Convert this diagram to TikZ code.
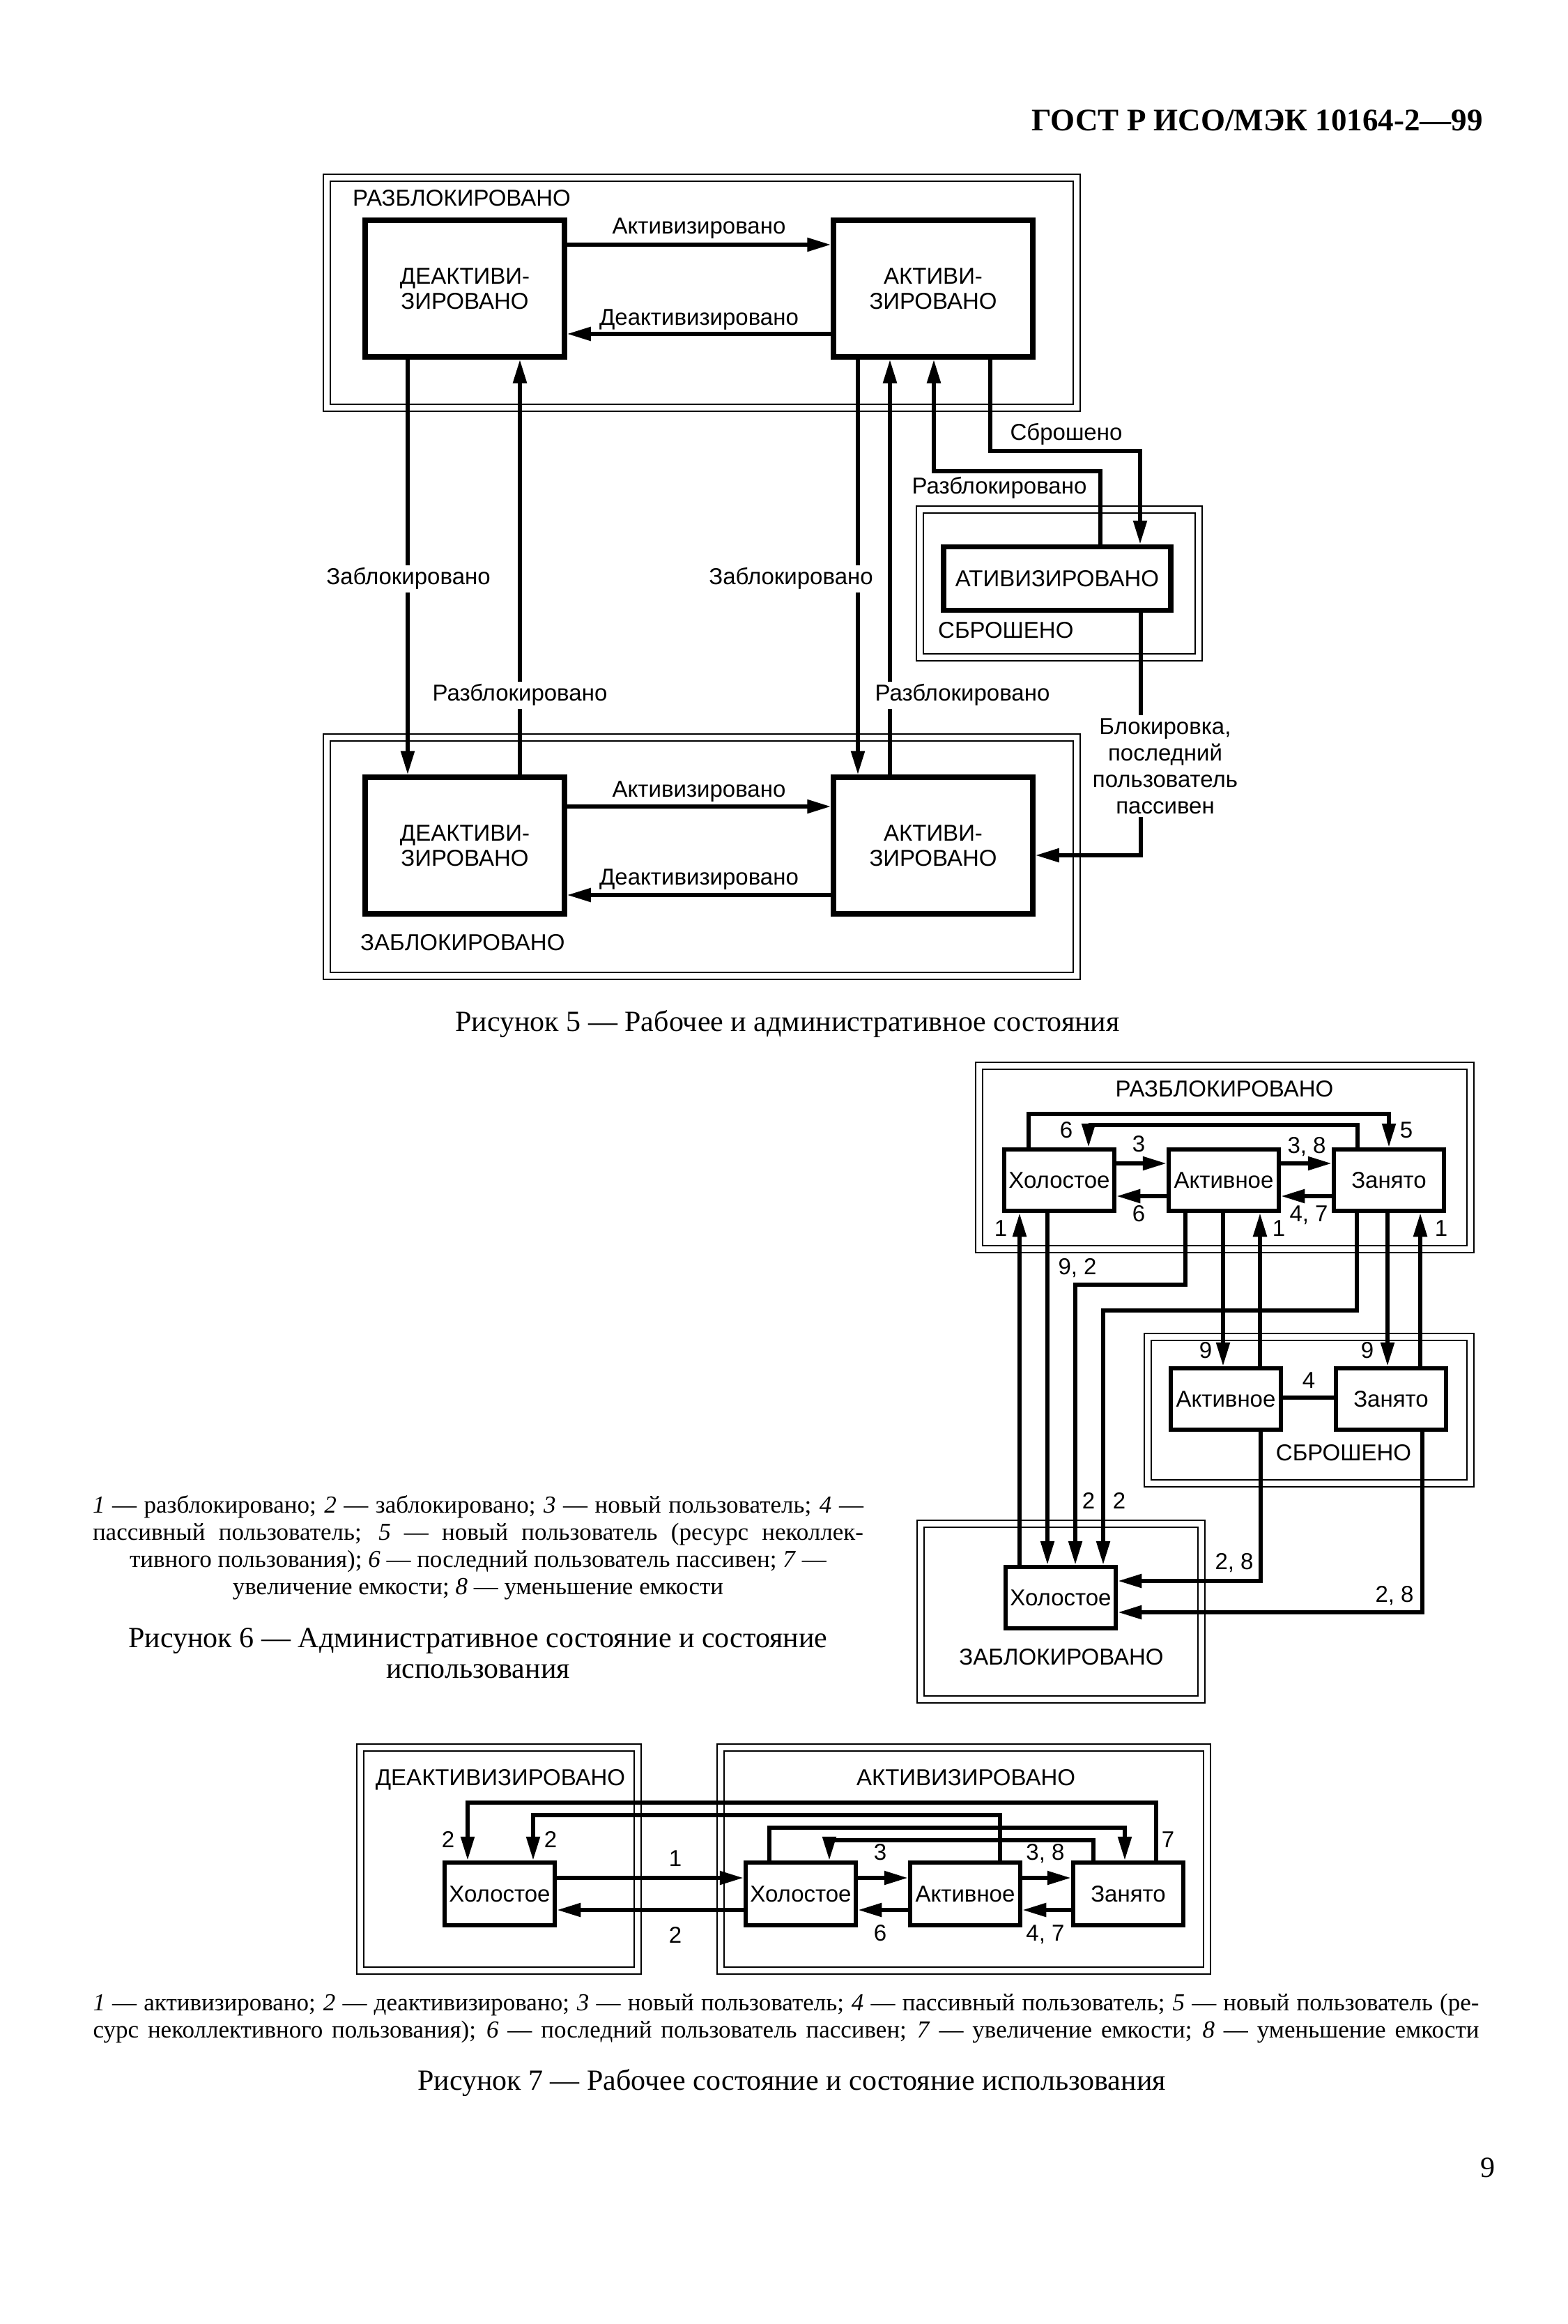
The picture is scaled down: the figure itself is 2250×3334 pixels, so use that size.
\documentclass[tikz,border=0pt]{standalone}
\usepackage{fontspec}
\setmainfont{Liberation Serif}
\setsansfont{Liberation Sans}
\usetikzlibrary{arrows.meta}
\newcommand\lblfont{\sffamily\fontsize{33}{36}\selectfont}
\newcommand\capfont{\rmfamily\fontsize{42}{44}\selectfont}
\newcommand\legfont{\rmfamily\fontsize{35}{39}\selectfont}
\tikzset{
  frame/.style = {draw=black, line width=2.8pt, double=white, double distance=7.2pt},
  state/.style = {draw=black, line width=7.5pt, fill=white, inner sep=0pt,
    font=\lblfont, align=center},
  small/.style = {state, line width=6.5pt, minimum width=158pt, minimum height=88pt},
  lbl/.style = {font=\lblfont, inner sep=2pt, text height=24pt, text depth=7pt},
  cut/.style = {lbl, fill=white, inner sep=4pt},
  conn/.style = {line width=5.5pt, -{Triangle[length=34pt,width=19pt]}},
  plain/.style = {line width=5.5pt}
}
\begin{document}
\begin{tikzpicture}[x=1pt, y=-1pt]
\fill[white] (0,0) rectangle (2250,3334);
\useasboundingbox (0,0) rectangle (2250,3334);

\node [font=\rmfamily\bfseries\fontsize{45}{48}\selectfont, anchor=east, inner sep=0pt]
  (head) at (2128,173) {ГОСТ Р ИСО/МЭК 10164-2—99};

% figure 5
\draw [frame] (469,255) rectangle (1545,585);
\draw [frame] (469,1058) rectangle (1545,1400);
\draw [frame] (1320,731) rectangle (1720,943);
\node [state, minimum width=286pt, minimum height=196pt] (deakt5u) at (667,414) {ДЕАКТИВИ-\\ЗИРОВАНО};
\node [state, minimum width=286pt, minimum height=196pt] (akt5u) at (1339,414) {АКТИВИ-\\ЗИРОВАНО};
\node [state, minimum width=286pt, minimum height=196pt] (deakt5l) at (667,1213) {ДЕАКТИВИ-\\ЗИРОВАНО};
\node [state, minimum width=286pt, minimum height=196pt] (akt5l) at (1339,1213) {АКТИВИ-\\ЗИРОВАНО};
\node [state, minimum width=326pt, minimum height=91pt] (ativ5) at (1517,830) {АТИВИЗИРОВАНО};

\draw [conn] (deakt5u.east |- 0,351) -- (akt5u.west |- 0,351);
\draw [conn] (akt5u.west |- 0,479) -- (deakt5u.east |- 0,479);
\draw [conn] (deakt5l.east |- 0,1157) -- (akt5l.west |- 0,1157);
\draw [conn] (akt5l.west |- 0,1284) -- (deakt5l.east |- 0,1284);
\draw [conn] (deakt5u.south -| 585,0) -- (deakt5l.north -| 585,0);
\draw [conn] (deakt5l.north -| 746,0) -- (deakt5u.south -| 746,0);
\draw [conn] (akt5u.south -| 1231,0) -- (akt5l.north -| 1231,0);
\draw [conn] (akt5l.north -| 1277,0) -- (akt5u.south -| 1277,0);
\draw [conn] (akt5u.south -| 1421,0) |- (1636,647) -- (ativ5.north -| 1636,0);
\draw [conn] (ativ5.north -| 1579,0) |- (1340,676) -- (akt5u.south -| 1340,0);
\draw [conn] (ativ5.south -| 1637,0) |- (akt5l.east |- 0,1227);

\node [lbl, anchor=west] (unlocked5) at (504,287) {РАЗБЛОКИРОВАНО};
\node [lbl, anchor=west] (locked5) at (515,1355) {ЗАБЛОКИРОВАНО};
\node [lbl, anchor=west] (reset5) at (1344,907) {СБРОШЕНО};
\node [lbl] (act5u) at (1003,327) {Активизировано};
\node [lbl] (deact5u) at (1003,458) {Деактивизировано};
\node [lbl] (act5l) at (1003,1135) {Активизировано};
\node [lbl] (deact5l) at (1003,1261) {Деактивизировано};
\node [cut] (lock5a) at (586,830) {Заблокировано};
\node [cut] (lock5b) at (1135,830) {Заблокировано};
\node [cut] (unlock5a) at (746,997) {Разблокировано};
\node [cut] (unlock5b) at (1381,997) {Разблокировано};
\node [lbl] (rst5) at (1530,623) {Сброшено};
\node [lbl] (unlock5c) at (1434,700) {Разблокировано};
\node [font=\lblfont, fill=white, inner sep=4pt, align=center] (idle5) at (1672,1099)
  {Блокировка,\\[2pt]последний\\[2pt]пользователь\\[2pt]пассивен};

\node [font=\capfont] (cap5) at (1130,1469) {Рисунок 5 — Рабочее и административное состояния};

% figure 6
\draw [frame] (1405,1529) rectangle (2110,1792);
\draw [frame] (1647,1918) rectangle (2110,2128);
\draw [frame] (1321,2186) rectangle (1724,2438);
\node [small] (hol6) at (1520,1693) {Холостое};
\node [small] (akt6) at (1756,1693) {Активное};
\node [small] (zan6) at (1993,1693) {Занято};
\node [small] (sakt6) at (1759,2007) {Активное};
\node [small] (szan6) at (1996,2007) {Занято};
\node [small] (bhol6) at (1522,2292) {Холостое};

\draw [conn] (hol6.east |- 0,1669) -- (akt6.west |- 0,1669);
\draw [conn] (akt6.west |- 0,1716) -- (hol6.east |- 0,1716);
\draw [conn] (akt6.east |- 0,1669) -- (zan6.west |- 0,1669);
\draw [conn] (zan6.west |- 0,1716) -- (akt6.east |- 0,1716);
\draw [conn] (hol6.north -| 1476,0) |- (1993,1598) -- (zan6.north);
\draw [conn] (zan6.north -| 1948,0) |- (1562,1614) -- (hol6.north -| 1562,0);
\draw [conn] (bhol6.north -| 1463,0) -- (hol6.south -| 1463,0);
\draw [conn] (hol6.south -| 1503,0) -- (bhol6.north -| 1503,0);
\draw [conn] (akt6.south -| 1701,0) |- (1543,1843) -- (bhol6.north -| 1543,0);
\draw [conn] (zan6.south -| 1947,0) |- (1583,1880) -- (bhol6.north -| 1583,0);
\draw [conn] (akt6.south -| 1755,0) -- (sakt6.north -| 1755,0);
\draw [conn] (sakt6.north -| 1808,0) -- (akt6.south -| 1808,0);
\draw [conn] (zan6.south -| 1991,0) -- (szan6.north -| 1991,0);
\draw [conn] (szan6.north -| 2038,0) -- (zan6.south -| 2038,0);
\draw [plain] (sakt6.east |- 0,2005) -- (szan6.west |- 0,2005);
\draw [conn] (sakt6.south -| 1809,0) |- (bhol6.east |- 0,2268);
\draw [conn] (szan6.south -| 2041,0) |- (bhol6.east |- 0,2313);

\node [lbl] (unlocked6) at (1757,1565) {РАЗБЛОКИРОВАНО};
\node [lbl] (reset6) at (1928,2087) {СБРОШЕНО};
\node [lbl] (locked6) at (1523,2380) {ЗАБЛОКИРОВАНО};
\node [lbl] (n6a) at (1634,1644) {3};
\node [lbl] (n6b) at (1634,1744) {6};
\node [lbl] (n6c) at (1875,1646) {3, 8};
\node [lbl] (n6d) at (1878,1744) {4, 7};
\node [lbl] (n6e) at (2018,1624) {5};
\node [lbl] (n6f) at (1530,1624) {6};
\node [lbl] (n6g) at (1546,1820) {9, 2};
\node [lbl] (n6h) at (1436,1765) {1};
\node [lbl] (n6i) at (1835,1765) {1};
\node [lbl] (n6j) at (2068,1765) {1};
\node [lbl] (n6k) at (1730,1940) {9};
\node [lbl] (n6l) at (1962,1940) {9};
\node [lbl] (n6m) at (1878,1983) {4};
\node [lbl] (n6n) at (1562,2156) {2};
\node [lbl] (n6o) at (1606,2156) {2};
\node [lbl] (n6p) at (1771,2243) {2, 8};
\node [lbl] (n6q) at (2001,2290) {2, 8};

\node [font=\legfont, align=center] (leg6) at (686,2220)
  {\makebox[1106pt][s]{\textit{1} — разблокировано; \textit{2} — заблокировано; \textit{3} — новый пользователь; \textit{4} —}\\
   \makebox[1106pt][s]{пассивный пользователь; \textit{5} — новый пользователь (ресурс неколлек-}\\
   тивного пользования); \textit{6} — последний пользователь пассивен; \textit{7} —\\
   увеличение емкости; \textit{8} — уменьшение емкости};
\node [font=\capfont, align=center] (cap6) at (686,2372)
  {Рисунок 6 — Административное состояние и состояние\\использования};

% figure 7
\draw [frame] (517,2507) rectangle (915,2827);
\draw [frame] (1034,2507) rectangle (1732,2827);
\node [small, minimum height=90pt] (dhol7) at (717,2717) {Холостое};
\node [small, minimum height=90pt] (hol7) at (1149,2717) {Холостое};
\node [small, minimum height=90pt] (akt7) at (1385,2717) {Активное};
\node [small, minimum height=90pt] (zan7) at (1619,2717) {Занято};

\draw [conn] (dhol7.east |- 0,2694) -- (hol7.west |- 0,2694);
\draw [conn] (hol7.west |- 0,2740) -- (dhol7.east |- 0,2740);
\draw [conn] (hol7.east |- 0,2694) -- (akt7.west |- 0,2694);
\draw [conn] (akt7.west |- 0,2740) -- (hol7.east |- 0,2740);
\draw [conn] (akt7.east |- 0,2694) -- (zan7.west |- 0,2694);
\draw [conn] (zan7.west |- 0,2740) -- (akt7.east |- 0,2740);
\draw [conn] (zan7.north -| 1659,0) |- (671,2586) -- (dhol7.north -| 671,0);
\draw [conn] (akt7.north -| 1435,0) |- (765,2604) -- (dhol7.north -| 765,0);
\draw [conn] (hol7.north -| 1104,0) |- (1614,2622) -- (zan7.north -| 1614,0);
\draw [conn] (zan7.north -| 1569,0) |- (1190,2640) -- (hol7.north -| 1190,0);

\node [lbl] (deacted7) at (718,2553) {ДЕАКТИВИЗИРОВАНО};
\node [lbl] (acted7) at (1386,2553) {АКТИВИЗИРОВАНО};
\node [lbl] (n7a) at (969,2669) {1};
\node [lbl] (n7b) at (969,2779) {2};
\node [lbl] (n7c) at (1263,2660) {3};
\node [lbl] (n7d) at (1263,2776) {6};
\node [lbl] (n7e) at (1500,2660) {3, 8};
\node [lbl] (n7f) at (1500,2776) {4, 7};
\node [lbl] (n7g) at (643,2642) {2};
\node [lbl] (n7h) at (790,2642) {2};
\node [lbl] (n7i) at (1676,2642) {7};

\node [font=\legfont, align=center] (leg7) at (1128,2896)
  {\makebox[1989pt][s]{\textit{1} — активизировано; \textit{2} — деактивизировано; \textit{3} — новый пользователь; \textit{4} — пассивный пользователь; \textit{5} — новый пользователь (ре-}\\
   \makebox[1989pt][s]{сурс неколлективного пользования); \textit{6} — последний пользователь пассивен; \textit{7} — увеличение емкости; \textit{8} — уменьшение емкости}};
\node [font=\capfont] (cap7) at (1136,2988) {Рисунок 7 — Рабочее состояние и состояние использования};

\node [font=\capfont, anchor=east, inner sep=0pt] (pageno) at (2146,3110) {9};
\end{tikzpicture}
\end{document}
